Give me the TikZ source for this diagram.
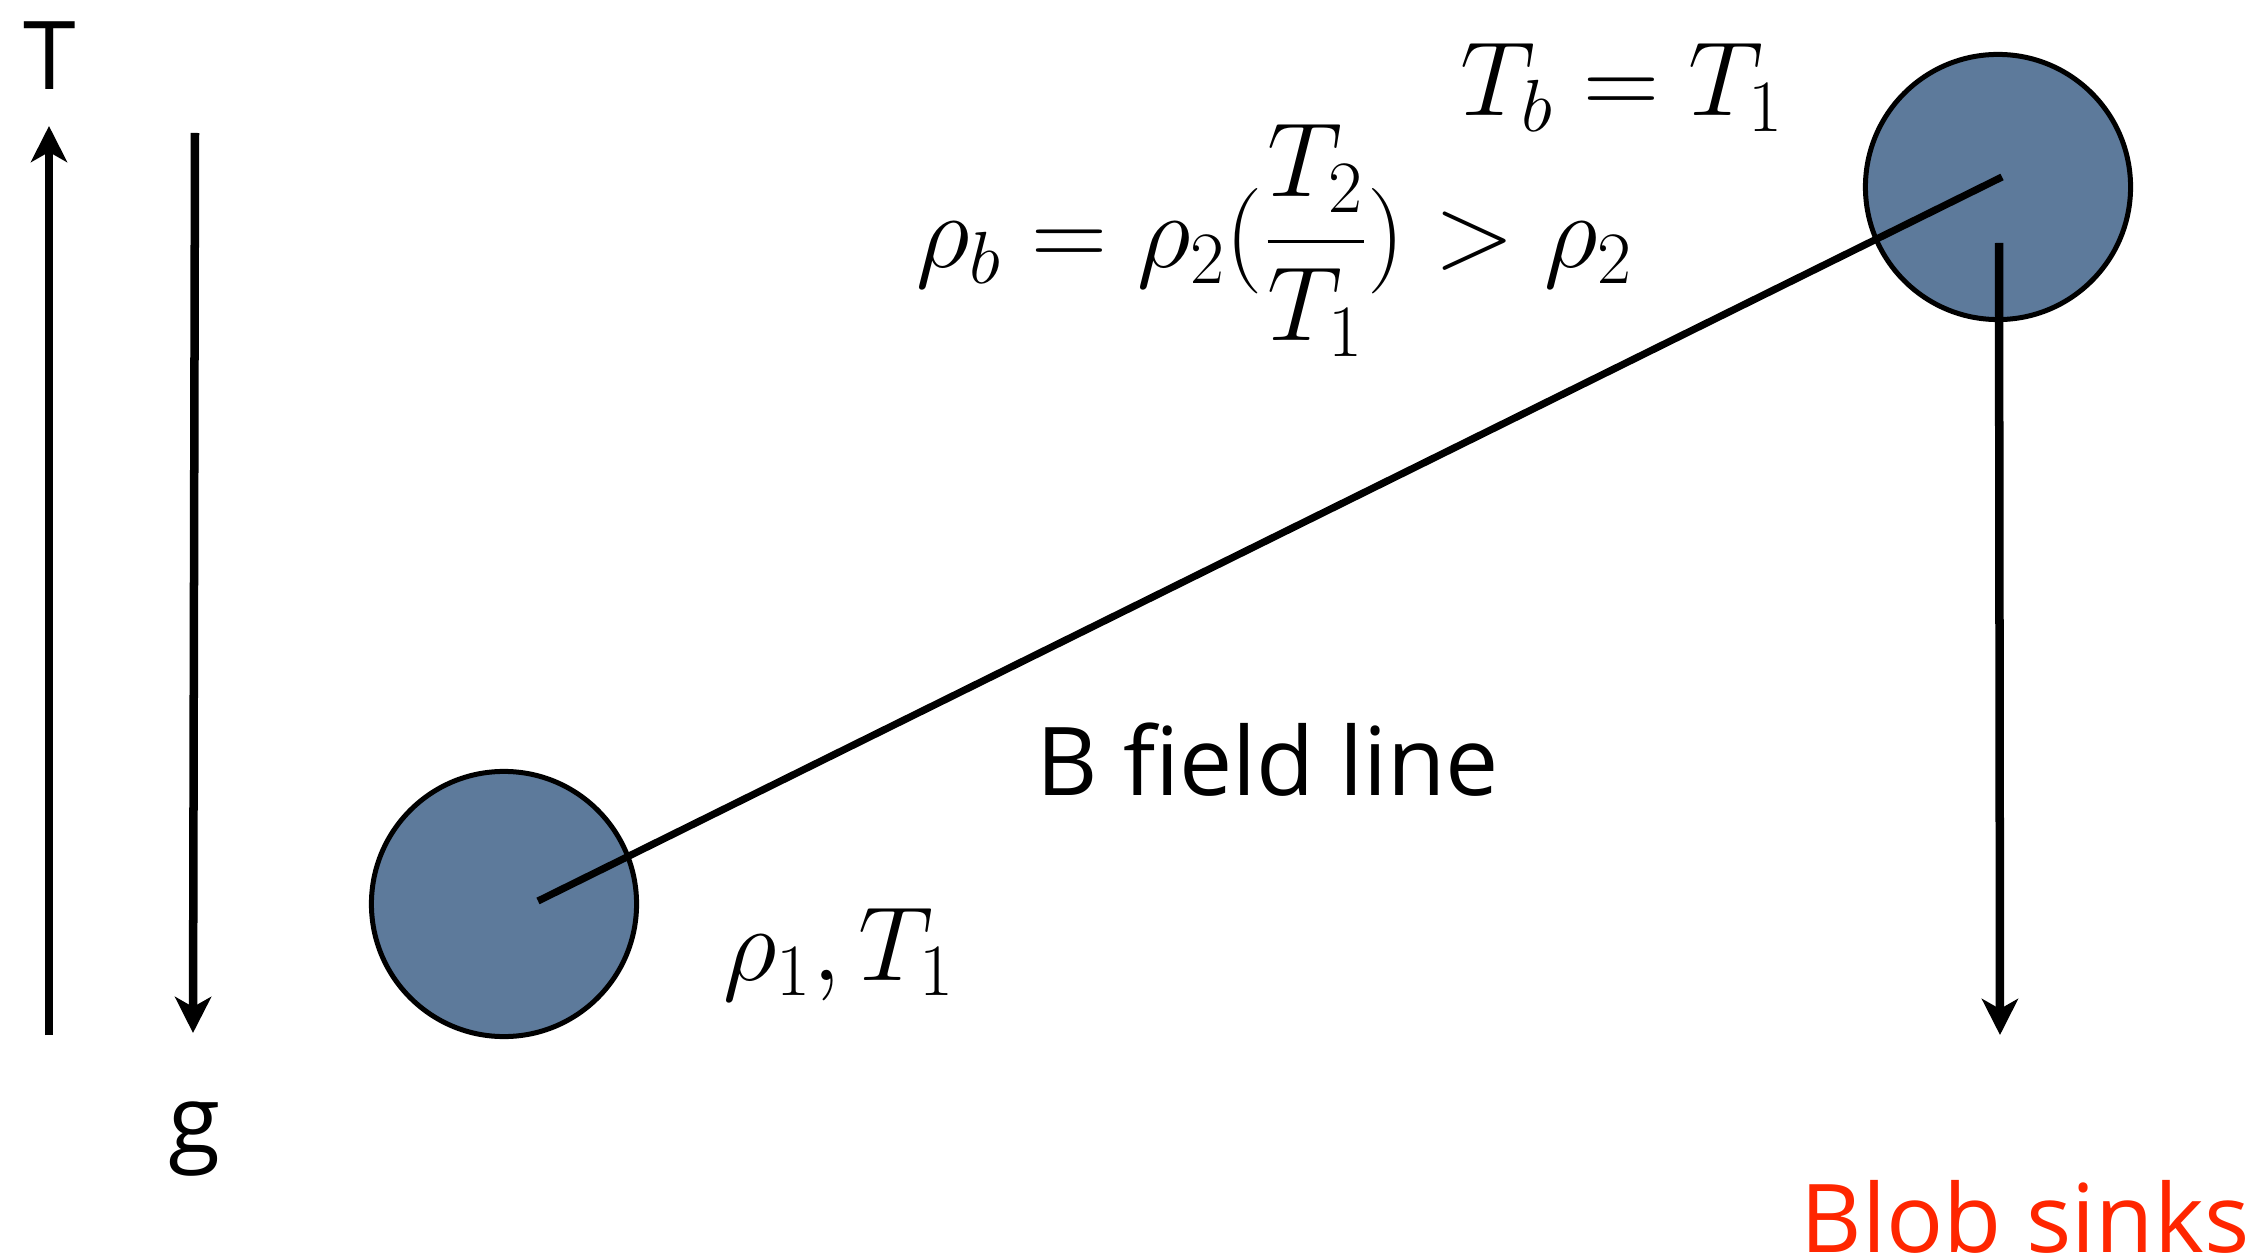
\RequirePackage{fix-cm}
\documentclass[tikz,border=0pt]{standalone}
\usepackage{amsmath}
\usepackage{fontspec}
\usepackage{tikz}
\usetikzlibrary{arrows.meta}
\newfontfamily\gill{Open Sans}
\definecolor{blobblue}{RGB}{93,122,155}
\definecolor{sinkred}{RGB}{255,38,0}

\begin{document}
\begin{tikzpicture}[x=0.01cm, y=-0.01cm, font=\fontsize{30}{36}\selectfont,
  blob/.style={circle, draw, fill=blobblue, line width=0.05cm, minimum size=2.65cm, inner sep=0pt},
  lbl/.style={font=\fontsize{27}{32}\selectfont\gill, inner sep=0pt, anchor=base},
  mth/.style={inner sep=0pt, anchor=base west},
  arr/.style={line width=0.085cm, -{Stealth[length=0.36cm, width=0.36cm, inset=0.1cm]}}]
  \useasboundingbox (0,0) rectangle (2266,1258);
  \node[blob] (lo) at (504,904) {};
  \node[blob] (hi) at (1998,187) {};
  \coordinate (f1) at (538,901);
  \coordinate (f2) at (2002,177);
  \draw[line width=0.072cm] (f1) -- (f2);
  \coordinate (t0) at (49,1035);
  \coordinate (t1) at (49,126);
  \coordinate (g0) at (195,133);
  \coordinate (g1) at (193,1033);
  \coordinate (s0) at (1999,243);
  \coordinate (s1) at (2000,1035);
  \draw[arr] (t0) -- (t1);
  \draw[arr] (g0) -- (g1);
  \draw[arr] (s0) -- (s1);
  \node[lbl] (tlab) at (50,90) {T};
  \node[lbl] (glab) at (195,1153) {g};
  \node[lbl] (field) at (1268,795) {B field line};
  \node[lbl, anchor=base east, text=sinkred] (sink) at (2250,1252) {Blob sinks};
  \node[mth] (lostate) at (723,980) {$\rho_1, T_1$};
  \node[mth] (tb) at (1460,116) {$T_b = T_1$};
  \node[mth] (rhob) at (916,268) {$\rho_b = \rho_2(\dfrac{T_2}{T_1}) > \rho_2$};
\end{tikzpicture}
\end{document}
